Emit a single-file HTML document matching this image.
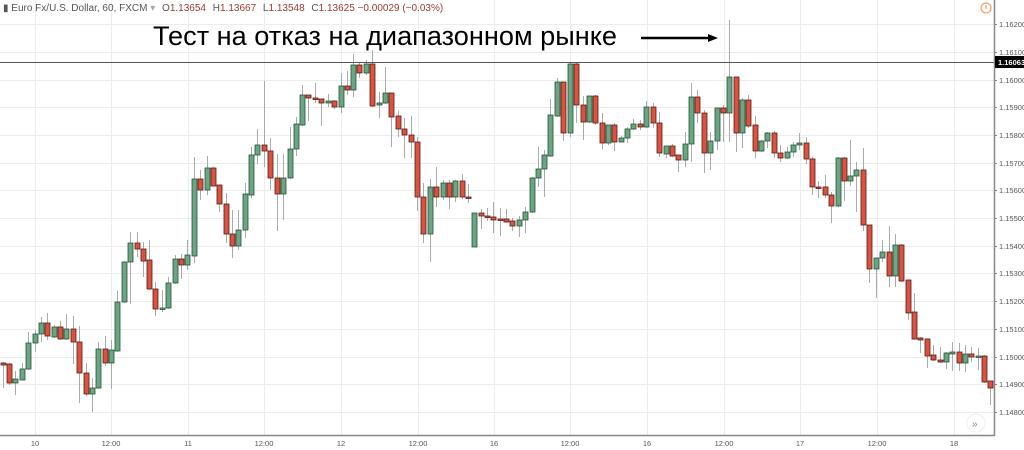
<!DOCTYPE html>
<html><head><meta charset="utf-8"><style>
html,body{margin:0;padding:0;background:#fff;width:1024px;height:450px;overflow:hidden;font-family:"Liberation Sans",sans-serif}
</style></head><body>
<svg id="s" width="1024" height="450" xmlns="http://www.w3.org/2000/svg" style="position:absolute;left:0;top:0">
<g id="grid" stroke="#ececec" stroke-width="1"></g>
<g id="c"></g>
<line x1="0" y1="62.5" x2="994" y2="62.5" stroke="#555" stroke-width="1"/>
<line x1="0" y1="435.5" x2="995" y2="435.5" stroke="#888" stroke-width="1.5"/>
<line x1="994.5" y1="0" x2="994.5" y2="436" stroke="#888" stroke-width="1.5"/>
<g id="ax" font-size="7.5" fill="#555"></g>
<rect x="995" y="56" width="29" height="12" fill="#000"/>
<text x="998" y="65" font-size="7.5" fill="#fff" font-weight="bold">1.16063</text>
<text x="3" y="11" font-size="10" fill="#555">▮ Euro Fx/U.S. Dollar, 60, FXCM <tspan fill="#aaa">▾</tspan>  <tspan dx="4">O</tspan><tspan fill="#9b3b32">1.13654</tspan>  <tspan dx="4">H</tspan><tspan fill="#9b3b32">1.13667</tspan>  <tspan dx="4">L</tspan><tspan fill="#9b3b32">1.13548</tspan>  <tspan dx="4">C</tspan><tspan fill="#9b3b32">1.13625</tspan>  <tspan fill="#9b3b32">−0.00029 (−0.03%)</tspan></text>
<circle cx="986" cy="8" r="5" fill="none" stroke="#f7a26b" stroke-width="1.3"/>
<line x1="986" y1="5" x2="986" y2="9" stroke="#f7a26b" stroke-width="1.3"/>
<circle cx="976" cy="423" r="9" fill="#fff" stroke="#eee"/>
<text x="972" y="427" font-size="10" fill="#7a8aa8">»</text>
<text x="153" y="45" font-size="27" fill="#000" textLength="464" lengthAdjust="spacingAndGlyphs">Тест на отказ на диапазонном рынке</text>
<line x1="641" y1="38" x2="710" y2="38" stroke="#000" stroke-width="2.5"/>
<polygon points="708,34 718,38 708,42" fill="#000"/>
</svg>
<script>
var g=document.getElementById('grid'),c=document.getElementById('c'),ax=document.getElementById('ax');
var ns='http://www.w3.org/2000/svg';
function el(p,t,a,txt){var e=document.createElementNS(ns,t);for(var k in a)e.setAttribute(k,a[k]);if(txt)e.textContent=txt;p.appendChild(e);return e;}
var ys=[24,52,80,107,135,163,190,218,246,273,301,329,357,384,412];
var lab=['1.16200','1.16100','1.16000','1.15900','1.15800','1.15700','1.15600','1.15500','1.15400','1.15300','1.15200','1.15100','1.15000','1.14900','1.14800'];
ys.forEach(function(y,i){el(g,'line',{x1:0,x2:994,y1:y+.5,y2:y+.5});el(ax,'text',{x:999,y:y+3},lab[i]);el(ax,'line',{x1:994,x2:997,y1:y+.5,y2:y+.5,stroke:'#888'});});
var xs=[35,111,188,264,341,418,494,570,647,724,800,877,954];
var xl=['10','12:00','11','12:00','12','12:00','16','12:00','16','12:00','17','12:00','18'];
xs.forEach(function(x,i){el(g,'line',{x1:x+.5,x2:x+.5,y1:0,y2:435});el(ax,'text',{x:x,y:446,'text-anchor':'middle'},xl[i]);});
var d=[[3,363,365,362,388],[9,364,383,363,385],[15,383,379,371,395],[22,380,369,363,380],[28,369,343,332,370],[35,343,334,330,352],[41,334,323,317,342],[47,323,336,313,340],[54,337,327,325,338],[60,327,339,321,340],[66,339,329,314,340],[73,329,342,316,364],[79,342,373,326,403],[86,373,394,363,396],[92,394,388,378,412],[98,388,349,342,389],[105,349,363,336,366],[111,363,350,340,389],[117,351,302,291,352],[124,302,262,261,303],[130,262,243,232,304],[137,243,249,232,257],[143,249,261,242,277],[149,260,289,240,290],[155,289,309,282,316],[162,309,308,290,312],[168,308,283,277,309],[175,283,259,255,284],[181,259,265,254,279],[187,265,255,240,270],[194,256,179,157,263],[200,179,190,170,200],[207,190,168,156,195],[213,168,186,167,186],[219,185,204,185,212],[226,204,234,193,243],[232,234,246,210,258],[238,246,230,210,250],[245,230,194,183,238],[251,195,155,147,198],[257,155,145,129,164],[264,145,151,81,167],[270,151,178,138,190],[277,178,194,154,231],[283,194,178,154,220],[290,178,149,127,179],[296,149,124,117,156],[302,125,95,85,126],[308,95,98,95,121],[315,98,99,83,103],[321,99,103,99,126],[328,103,101,94,107],[334,101,107,100,109],[341,107,86,73,113],[347,86,90,71,95],[353,90,65,54,97],[359,65,73,63,78],[366,73,64,60,75],[372,64,106,50,107],[379,105,103,92,118],[385,103,93,67,104],[391,93,117,93,147],[398,116,129,111,137],[404,129,135,118,158],[411,135,142,116,158],[417,142,197,137,211],[423,197,234,183,243],[430,234,187,179,262],[436,187,197,167,207],[443,197,183,180,200],[449,183,197,180,209],[455,197,181,180,202],[462,181,197,174,199],[468,197,198,184,203],[474,247,213,213,247],[481,213,216,209,229],[487,216,217,208,221],[493,217,220,202,233],[500,219,220,208,236],[506,219,222,209,223],[512,221,226,218,231],[519,226,220,216,237],[525,220,212,207,233],[532,212,178,177,213],[538,178,169,147,187],[544,169,155,150,197],[550,156,115,99,157],[557,116,82,78,117],[563,82,133,82,141],[570,133,64,63,137],[576,64,105,63,123],[583,105,122,96,140],[589,122,96,96,123],[595,96,123,95,125],[602,123,143,113,149],[608,143,125,125,145],[614,125,142,123,151],[621,142,138,136,142],[627,138,129,127,143],[633,129,124,119,130],[640,124,127,120,130],[646,127,107,101,128],[653,107,123,103,128],[659,123,153,112,157],[666,154,146,146,158],[672,146,156,144,157],[678,155,160,155,172],[685,160,144,132,167],[691,144,97,83,162],[697,97,113,90,123],[704,113,153,110,173],[710,153,141,132,170],[717,141,108,108,150],[723,108,113,105,142],[729,113,77,20,142],[736,77,133,77,152],[742,133,100,98,148],[748,100,126,95,128],[755,125,151,116,158],[761,151,141,140,152],[767,141,133,132,148],[774,133,153,131,158],[780,153,158,145,162],[787,158,152,147,159],[793,152,145,142,157],[799,145,143,133,150],[806,143,159,137,164],[812,159,187,157,195],[818,187,188,181,198],[825,187,195,175,198],[831,195,206,192,223],[838,206,158,157,207],[844,158,181,157,201],[850,181,176,140,186],[856,176,170,162,212],[863,170,225,148,231],[869,225,269,225,283],[876,269,258,258,298],[882,258,252,240,262],[889,252,276,226,287],[895,276,245,234,287],[901,245,281,244,282],[908,280,313,280,320],[914,312,339,293,340],[920,338,340,337,353],[927,339,356,339,368],[933,355,360,345,361],[940,360,362,347,363],[946,362,353,352,369],[952,354,352,342,371],[959,352,363,343,371],[965,363,354,345,372],[971,354,357,347,362],[978,357,356,348,370],[984,356,382,355,383],[990,381,388,381,405]];
d.forEach(function(k){var up=k[2]<k[1];var t=Math.min(k[1],k[2]),b=Math.max(k[1],k[2]);if(b-t<1.5)b=t+1.5;
el(c,'line',{x1:k[0]+.5,x2:k[0]+.5,y1:k[3],y2:k[4],stroke:'#aaa','stroke-width':1});
el(c,'rect',{x:k[0]-2,y:t,width:5,height:b-t,fill:up?'#6ba583':'#d75442',stroke:up?'#225437':'#5b1a13','stroke-width':0.8});});
</script>
</body></html>
